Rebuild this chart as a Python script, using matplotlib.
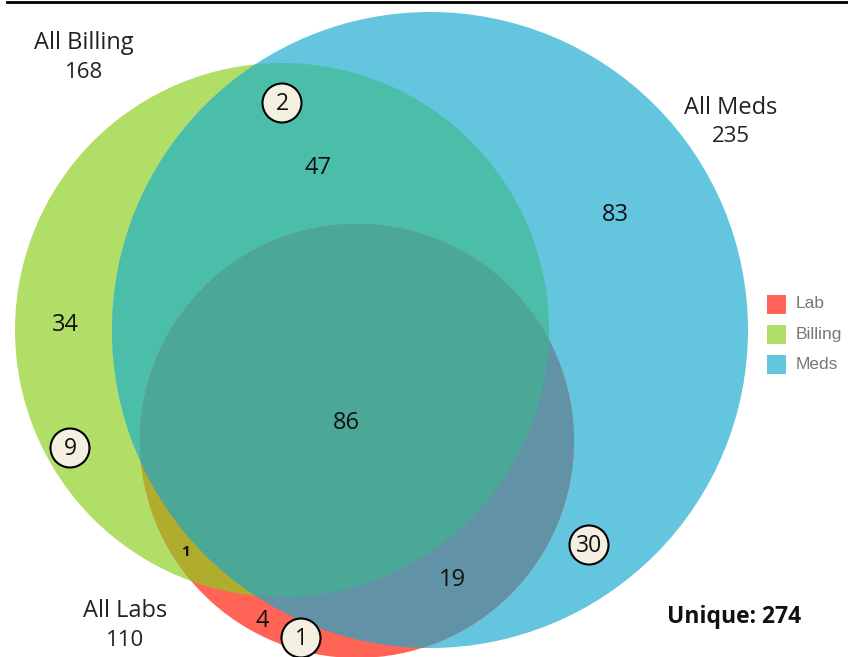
import numpy as np
import matplotlib.pyplot as plt
from matplotlib.patches import Circle, Polygon, Rectangle
from matplotlib.lines import Line2D

plt.rcParams['font.family'] = ['Open Sans', 'DejaVu Sans']

# set totals
set_names = ['All Billing', 'All Meds', 'All Labs']
set_totals = [168, 235, 110]
legend_labels = ['Lab', 'Billing', 'Meds']
unique_total = 274

# region counts (plain) and circled counts
plain_counts = [47, 83, 34, 86, 19, 4]
badge_counts = [2, 9, 30, 1]
small_count = 1

# colours
c_lab, c_bill, c_meds = '#FF6457', '#B1DE66', '#63C5DE'
c_bm, c_lb, c_lm, c_lbm = '#4BBEAA', '#AFAC2E', '#6292A6', '#4BA896'

fig = plt.figure(figsize=(8.48, 6.57), dpi=100)
ax = fig.add_axes([0, 0, 1, 1])
ax.set_xlim(0, 848)
ax.set_ylim(657, 0)
ax.set_aspect('equal')
ax.axis('off')

bill = ((282, 330), 267)
meds = ((430, 330), 318)
lab = ((357, 441), 217)


def circ(c, color, clip=None, z=1):
    p = Circle(c[0], c[1], facecolor=color, edgecolor='none', zorder=z)
    ax.add_patch(p)
    if clip is not None:
        cp = Circle(clip[0], clip[1], transform=ax.transData)
        p.set_clip_path(cp)
    return p


def lens(a, b, n=2000):
    pts = []
    for (c1, r1), (c2, r2) in [(a, b), (b, a)]:
        t = np.linspace(0, 2 * np.pi, n)
        x = c1[0] + r1 * np.cos(t)
        y = c1[1] + r1 * np.sin(t)
        m = (x - c2[0]) ** 2 + (y - c2[1]) ** 2 <= r2 ** 2
        pts.append(np.column_stack([x[m], y[m]]))
    pts = np.vstack(pts)
    cen = pts.mean(axis=0)
    ang = np.arctan2(pts[:, 1] - cen[1], pts[:, 0] - cen[0])
    return pts[np.argsort(ang)]


circ(bill, c_bill, z=1)
circ(meds, c_meds, z=2)
circ(bill, c_bm, clip=meds, z=3)
circ(lab, c_lab, z=4)
circ(bill, c_lb, clip=lab, z=5)
circ(meds, c_lm, clip=lab, z=6)
tri = Polygon(lens(bill, lab), closed=True, facecolor=c_lbm, edgecolor='none', zorder=7)
ax.add_patch(tri)
tri.set_clip_path(Circle(meds[0], meds[1], transform=ax.transData))

# top border
ax.add_line(Line2D([7, 848], [1.5, 1.5], color='black', lw=2, zorder=10))

# set labels
set_pos = [(84, 43), (731, 108), (125, 611)]
for name, tot, (x, y) in zip(set_names, set_totals, set_pos):
    ax.text(x, y, name, ha='center', va='center', fontsize=17, color='#222222', zorder=10)
    ax.text(x, y + 29, str(tot), ha='center', va='center', fontsize=16, color='#222222', zorder=10)

plain_pos = [(318, 168), (615, 215), (65, 325), (346, 423), (452, 580), (262, 621)]
for v, (x, y) in zip(plain_counts, plain_pos):
    ax.text(x, y, str(v), ha='center', va='center', fontsize=17, color='#111111', zorder=10)

ax.text(186, 552, str(small_count), ha='center', va='center', fontsize=11,
        fontweight='bold', color='#111111', zorder=10)

badge_pos = [(282, 103), (70, 448), (589, 545), (301, 638)]
for v, (x, y) in zip(badge_counts, badge_pos):
    ax.add_patch(Circle((x, y), 19.5, facecolor='#F3EFE1', edgecolor='black', lw=1.5, zorder=11))
    ax.text(x, y + 1, str(v), ha='center', va='center', fontsize=16.5, color='#111111', zorder=12)

# legend
leg_colors = [c_lab, c_bill, c_meds]
for i, (lab_txt, col) in enumerate(zip(legend_labels, leg_colors)):
    y = 304 + i * 30.3
    ax.add_patch(Rectangle((767, y - 9.5), 19, 19, facecolor=col, edgecolor='none', zorder=10))
    ax.text(796, y, lab_txt, ha='left', va='center', fontsize=12.5,
            family=['Liberation Sans', 'DejaVu Sans'], color='#777777', zorder=10)

ax.text(734, 617, 'Unique: %d' % unique_total, ha='center', va='center', fontsize=16.5,
        fontweight='bold', color='#111111', zorder=10)

fig.savefig('out.png', dpi=100)
